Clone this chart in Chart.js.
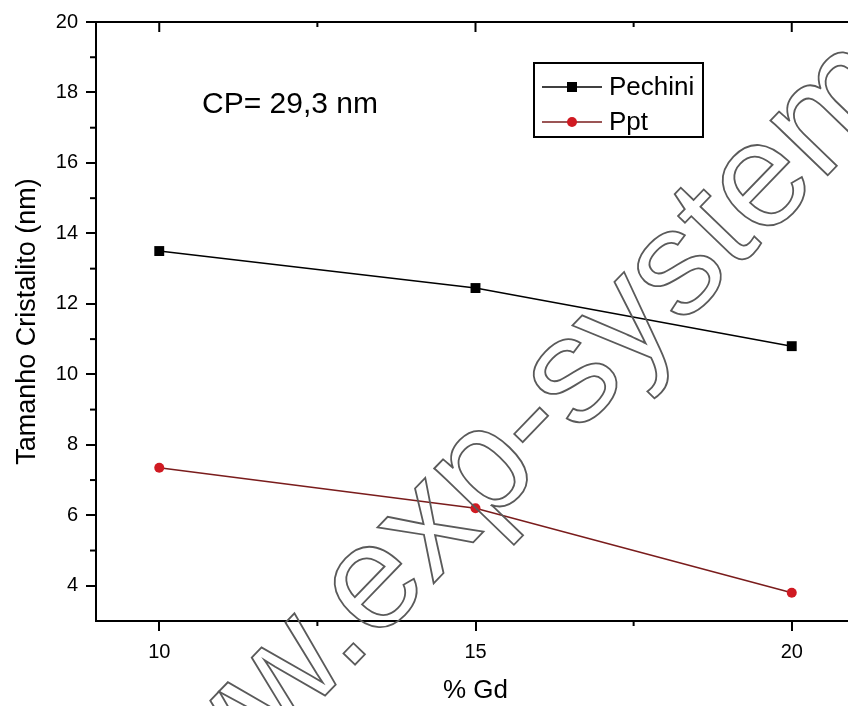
<!DOCTYPE html>
<html>
<head>
<meta charset="utf-8">
<script src="https://cdn.jsdelivr.net/npm/chart.js@4.4.1/dist/chart.umd.min.js"></script>
<style>
    html, body { margin: 0; padding: 0; background: #fff; overflow: hidden; }
    #wrap { width: 848px; height: 706px; overflow: hidden; }
</style>
</head>
<body>
<div id="wrap"><canvas id="crystal-chart" width="880" height="706"></canvas></div>
<script>
// Chart data
const gdPercent = [10, 15, 20];
const pechiniSize = [13.5, 12.45, 10.8];
const pptSize = [7.35, 6.2, 3.8];
const seriesNames = ['Pechini', 'Ppt'];
const xTickValues = [10, 15, 20];
const xMinorValues = [12.5, 17.5];
const yTickValues = [4, 6, 8, 10, 12, 14, 16, 18, 20];
const yMinorValues = [5, 7, 9, 11, 13, 15, 17, 19];
const noteText = 'CP= 29,3 nm';
const watermarkText = 'www.exp-system';

const FONT = "'Liberation Sans', Arial, sans-serif";

/**
 * Extra drawing: top axis, minor ticks, note, legend box and watermark
 */
const decorPlugin = {
    id: 'decor',
    afterDatasetsDraw(chart) {
        const ctx = chart.ctx;
        const area = chart.chartArea;
        const xs = chart.scales.x;
        const ys = chart.scales.y;

        ctx.save();
        ctx.strokeStyle = '#000';
        ctx.lineWidth = 2;

        // top axis line
        ctx.beginPath();
        ctx.moveTo(area.left - 1, area.top);
        ctx.lineTo(area.right, area.top);
        ctx.stroke();

        // top ticks (inward)
        xTickValues.forEach(v => {
            const px = xs.getPixelForValue(v);
            ctx.beginPath();
            ctx.moveTo(px, area.top);
            ctx.lineTo(px, area.top + 10);
            ctx.stroke();
        });
        xMinorValues.forEach(v => {
            const px = xs.getPixelForValue(v);
            ctx.beginPath();
            ctx.moveTo(px, area.top);
            ctx.lineTo(px, area.top + 5);
            ctx.stroke();
            // bottom minor (outward)
            ctx.beginPath();
            ctx.moveTo(px, area.bottom);
            ctx.lineTo(px, area.bottom + 5);
            ctx.stroke();
        });
        yMinorValues.forEach(v => {
            const py = ys.getPixelForValue(v);
            ctx.beginPath();
            ctx.moveTo(area.left, py);
            ctx.lineTo(area.left - 6, py);
            ctx.stroke();
        });

        // note text
        ctx.fillStyle = '#000';
        ctx.font = '30px ' + FONT;
        ctx.textAlign = 'center';
        ctx.textBaseline = 'middle';
        ctx.fillText(noteText, 290, 105);

        // legend box
        ctx.lineWidth = 2;
        ctx.strokeRect(534, 63, 169, 74);
        ctx.font = '26px ' + FONT;
        ctx.textAlign = 'left';
        const rowY = [87, 122];
        chart.data.datasets.forEach((ds, i) => {
            const y = rowY[i];
            ctx.strokeStyle = ds.borderColor;
            ctx.lineWidth = 1.5;
            ctx.beginPath();
            ctx.moveTo(542, y);
            ctx.lineTo(602, y);
            ctx.stroke();
            ctx.fillStyle = ds.pointBackgroundColor;
            if (ds.pointStyle === 'rect') {
                ctx.fillRect(567, y - 5, 10, 10);
            } else {
                ctx.beginPath();
                ctx.arc(572, y, 5, 0, Math.PI * 2);
                ctx.fill();
            }
            ctx.fillStyle = '#000';
            ctx.fillText(ds.label, 609, y + 1);
        });
        ctx.restore();
    },
    afterDraw(chart) {
        // diagonal outlined watermark
        const ctx = chart.ctx;
        ctx.save();
        ctx.translate(360, 648);
        ctx.rotate(-46 * Math.PI / 180);
        ctx.font = '150px ' + FONT;
        ctx.textAlign = 'left';
        ctx.textBaseline = 'alphabetic';
        ctx.strokeStyle = '#5a5a5a';
        ctx.lineWidth = 1.8;
        const pre = ctx.measureText('www').width + ctx.measureText('.').width / 2;
        ctx.strokeText(watermarkText, -pre, 8);
        ctx.restore();
    }
};

const ctx = document.getElementById('crystal-chart').getContext('2d');

const crystalChart = new Chart(ctx, {
    type: 'line',
    data: {
        datasets: [
            {
                label: seriesNames[0],
                data: gdPercent.map((g, i) => ({ x: g, y: pechiniSize[i] })),
                borderColor: '#000000',
                backgroundColor: '#000000',
                pointBackgroundColor: '#000000',
                pointBorderColor: '#000000',
                pointStyle: 'rect',
                pointRadius: 7,
                pointBorderWidth: 0,
                borderWidth: 1.5,
                tension: 0
            },
            {
                label: seriesNames[1],
                data: gdPercent.map((g, i) => ({ x: g, y: pptSize[i] })),
                borderColor: '#7a1c1c',
                backgroundColor: '#d01a22',
                pointBackgroundColor: '#d01a22',
                pointBorderColor: '#d01a22',
                pointStyle: 'circle',
                pointRadius: 5,
                pointBorderWidth: 0,
                borderWidth: 1.5,
                tension: 0
            }
        ]
    },
    options: {
        responsive: false,
        animation: false,
        layout: {
            padding: { top: 22, right: 25, left: 0, bottom: 0 }
        },
        plugins: {
            legend: { display: false },
            tooltip: { enabled: false }
        },
        scales: {
            x: {
                type: 'linear',
                min: 9,
                max: 21,
                afterBuildTicks: scale => {
                    scale.ticks = xTickValues.map(v => ({ value: v }));
                },
                afterFit: scale => { scale.height = 85; },
                border: { color: '#000', width: 2 },
                grid: { drawOnChartArea: false, tickLength: 10, color: '#000', lineWidth: 2 },
                ticks: {
                    color: '#000',
                    padding: 9,
                    font: { family: FONT, size: 20 }
                },
                title: {
                    display: true,
                    text: '% Gd',
                    color: '#000',
                    padding: { top: 0, bottom: 0 },
                    font: { family: FONT, size: 26 }
                }
            },
            y: {
                type: 'linear',
                min: 3,
                max: 20,
                afterBuildTicks: scale => {
                    scale.ticks = yTickValues.map(v => ({ value: v }));
                },
                afterFit: scale => { scale.width = 96; },
                border: { color: '#000', width: 2 },
                grid: { drawOnChartArea: false, tickLength: 10, color: '#000', lineWidth: 2 },
                ticks: {
                    color: '#000',
                    padding: 8,
                    font: { family: FONT, size: 20 }
                },
                title: {
                    display: true,
                    text: 'Tamanho Cristalito (nm)',
                    color: '#000',
                    padding: { top: 11, bottom: 0 },
                    font: { family: FONT, size: 27 }
                }
            }
        }
    },
    plugins: [decorPlugin]
});
</script>
</body>
</html>
